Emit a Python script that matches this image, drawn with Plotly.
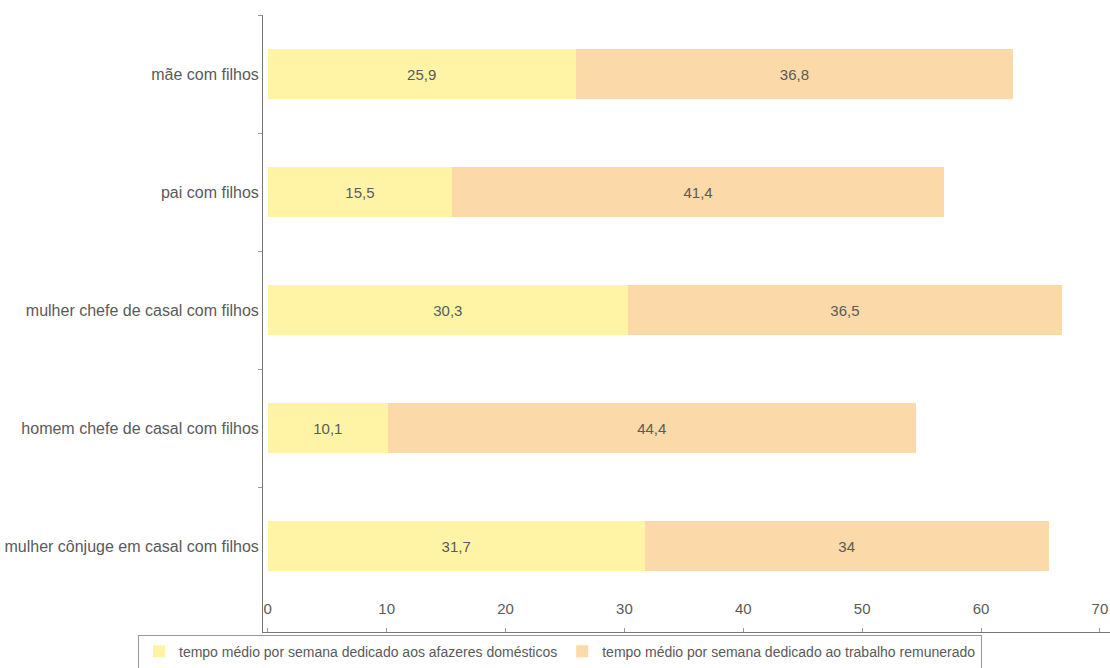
import plotly.graph_objects as go

categorias = [
    "mãe com filhos",
    "pai com filhos",
    "mulher chefe de casal com filhos",
    "homem chefe de casal com filhos",
    "mulher cônjuge em casal com filhos",
]
afazeres_domesticos = [25.9, 15.5, 30.3, 10.1, 31.7]
trabalho_remunerado = [36.8, 41.4, 36.5, 44.4, 34]
ticks_x = [0, 10, 20, 30, 40, 50, 60, 70]

cinza = "#5a5a5a"
familia = "Liberation Sans, Arial, sans-serif"
fonte_barras = dict(family=familia, size=15, color=cinza)

fig = go.Figure()
fig.add_trace(go.Bar(
    y=categorias, x=afazeres_domesticos, orientation="h",
    name="tempo médio por semana dedicado aos afazeres domésticos",
    marker=dict(color="#fff4a6", line=dict(width=0)),
    text=afazeres_domesticos, texttemplate="%{x}", textposition="inside",
    insidetextanchor="middle", textfont=fonte_barras,
))
fig.add_trace(go.Bar(
    y=categorias, x=trabalho_remunerado, orientation="h",
    name="tempo médio por semana dedicado ao trabalho remunerado",
    marker=dict(color="#fbd9a8", line=dict(width=0)),
    text=trabalho_remunerado, texttemplate="%{x}", textposition="inside",
    insidetextanchor="middle", textfont=fonte_barras,
))

fig.update_layout(
    barmode="stack",
    bargap=0.57,
    separators=",.",
    width=1110, height=668,
    margin=dict(l=263, r=0, t=15, b=36, autoexpand=False),
    paper_bgcolor="white", plot_bgcolor="white",
    font=dict(family=familia, size=15, color=cinza),
    showlegend=True,
    legend=dict(
        orientation="h", xref="container", yref="container",
        x=0.5045, xanchor="center", y=0.05, yanchor="top",
        bordercolor="#9a9a9a", borderwidth=1,
        font=dict(family=familia, size=14, color=cinza),
        traceorder="normal", itemwidth=30,
    ),
    uniformtext=dict(mode="show", minsize=15),
)
fig.update_xaxes(
    range=[-0.4, 70.85], tickvals=ticks_x, showgrid=False, zeroline=False,
    showline=True, linecolor="#777", linewidth=1,
    ticks="inside", ticklen=4, tickcolor="#999",
    ticklabelposition="inside", ticklabelstandoff=11,
    tickfont=dict(family=familia, size=15, color=cinza),
)
fig.update_yaxes(
    autorange="reversed", showgrid=False, zeroline=False,
    showline=True, linecolor="#777", linewidth=1,
    ticks="outside", ticklen=4, tickcolor="#999", tickson="boundaries",
    tickfont=dict(family=familia, size=16, color=cinza),
)

fig.write_html("out.html")
